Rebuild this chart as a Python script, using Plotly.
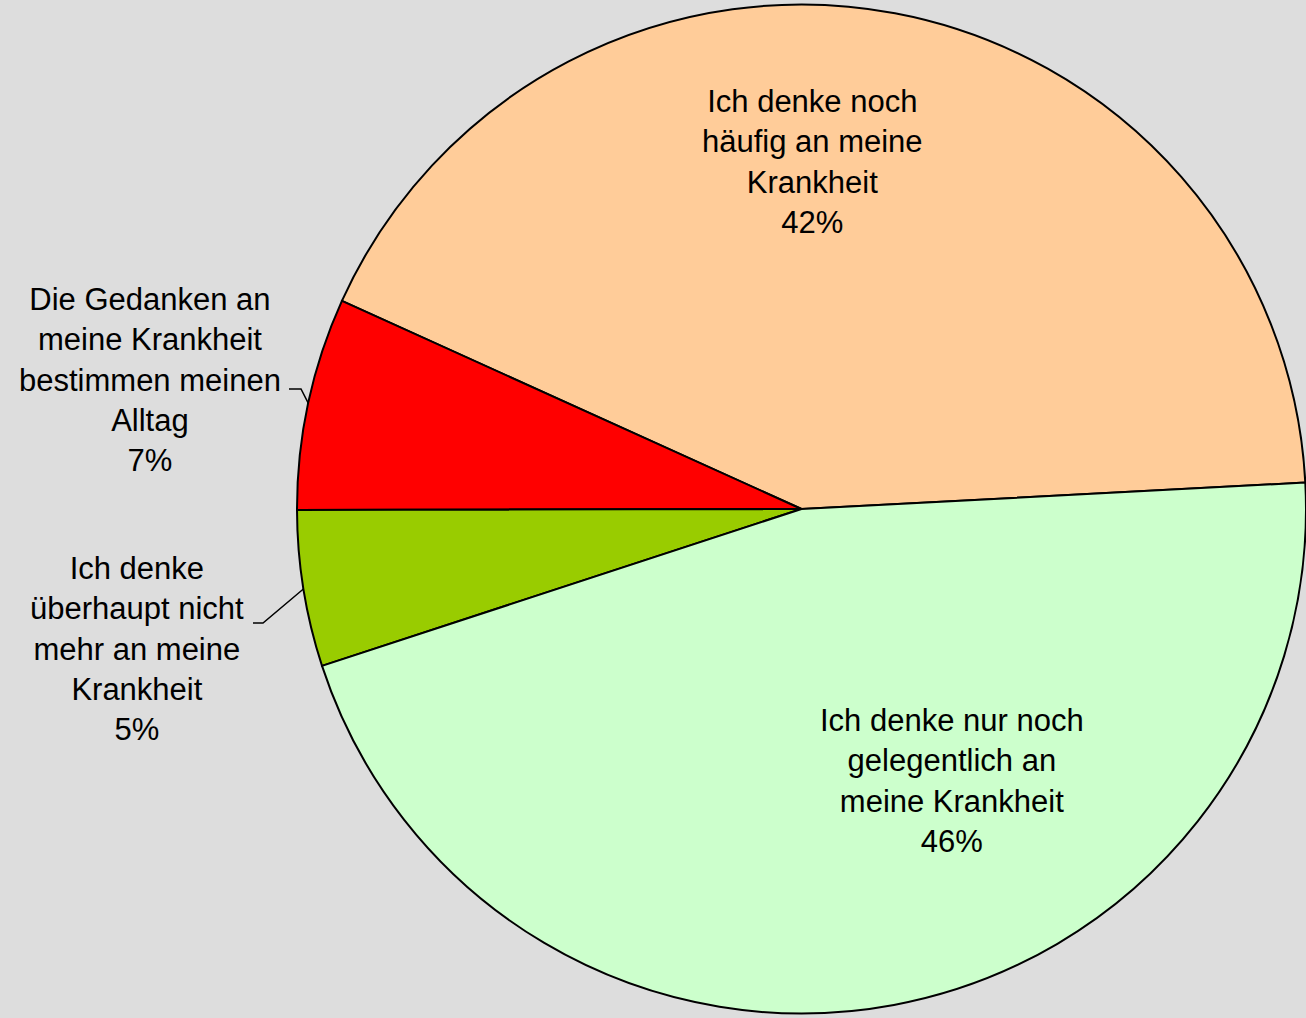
import math
import plotly.graph_objects as go

# ---- data ----
categories = [
    "Ich denke noch<br>häufig an meine<br>Krankheit",
    "Die Gedanken an<br>meine Krankheit<br>bestimmen meinen<br>Alltag",
    "Ich denke<br>überhaupt nicht<br>mehr an meine<br>Krankheit",
    "Ich denke nur noch<br>gelegentlich an<br>meine Krankheit",
]
values = [42.4, 6.8, 5.0, 45.8]
colors = ["#FFCC99", "#FF0000", "#99CC00", "#CCFFCC"]

W, H = 1306, 1018
BG = "#DDDDDD"
FONT = "Arial, Liberation Sans, sans-serif"
FS = 31
START = 87  # first slice starts here (degrees clockwise from 12 o'clock), going counterclockwise

total = sum(values)
pct = [f"{round(v / total * 100)}%" for v in values]

# plotly (counterclockwise) puts the END of the first slice at `rotation`
rotation = START - 360 * values[0] / total

dom_x = [297 / W, 1.0]
dom_y = [0.0, 1.0]

fig = go.Figure(go.Pie(
    labels=[c.replace("<br>", " ") for c in categories],
    values=values,
    sort=False,
    direction="counterclockwise",
    rotation=rotation,
    marker=dict(colors=colors, line=dict(color="black", width=2)),
    textinfo="none",
    hoverinfo="label+percent",
    domain=dict(x=dom_x, y=dom_y),
    showlegend=False,
))

# pie geometry in pixels (margins 0)
dw = (dom_x[1] - dom_x[0]) * W
dh = (dom_y[1] - dom_y[0]) * H
R = min(dw, dh) / 2
cx = dom_x[0] * W + dw / 2
cy = (1 - dom_y[1]) * H + dh / 2


def mid_angle(i):
    start = 90 - START  # math angle
    a0 = start + 360 * sum(values[:i]) / total
    a1 = start + 360 * sum(values[: i + 1]) / total
    return math.radians((a0 + a1) / 2)


def px(x, y):
    return x / W, 1 - y / H


annotations = []
shapes = []

# inside labels
label_pos = {0: (812, 162), 3: (952, 781)}
for i, (lx, ly) in label_pos.items():
    x, y = px(lx, ly)
    annotations.append(dict(
        x=x, y=y, xref="paper", yref="paper",
        text=categories[i] + "<br>" + pct[i],
        showarrow=False, xanchor="center", yanchor="middle", align="center",
        font=dict(family=FONT, size=FS, color="black"),
    ))

# outside labels with leader lines
outside = {
    1: dict(text_pos=(150, 380), elbow=((289, 389), (301, 389))),
    2: dict(text_pos=(137, 649), elbow=((253, 623), (263, 623))),
}
for i, d in outside.items():
    x, y = px(*d["text_pos"])
    annotations.append(dict(
        x=x, y=y, xref="paper", yref="paper",
        text=categories[i] + "<br>" + pct[i],
        showarrow=False, xanchor="center", yanchor="middle", align="center",
        font=dict(family=FONT, size=FS, color="black"),
    ))
    a = mid_angle(i)
    ex, ey = cx + R * math.cos(a), cy - R * math.sin(a)
    (x0, y0), (x1, y1) = d["elbow"]
    pts = [px(x0, y0), px(x1, y1), px(ex, ey)]
    path = "M {} {} L {} {} L {} {}".format(*pts[0], *pts[1], *pts[2])
    shapes.append(dict(type="path", xref="paper", yref="paper", path=path,
                       line=dict(color="black", width=1.5)))

fig.update_layout(
    width=W, height=H,
    margin=dict(l=0, r=0, t=0, b=0),
    paper_bgcolor=BG, plot_bgcolor=BG,
    annotations=annotations, shapes=shapes,
)

fig.write_html("out.html", config={"displayModeBar": False},
               post_script="document.body.style.margin='0';")
